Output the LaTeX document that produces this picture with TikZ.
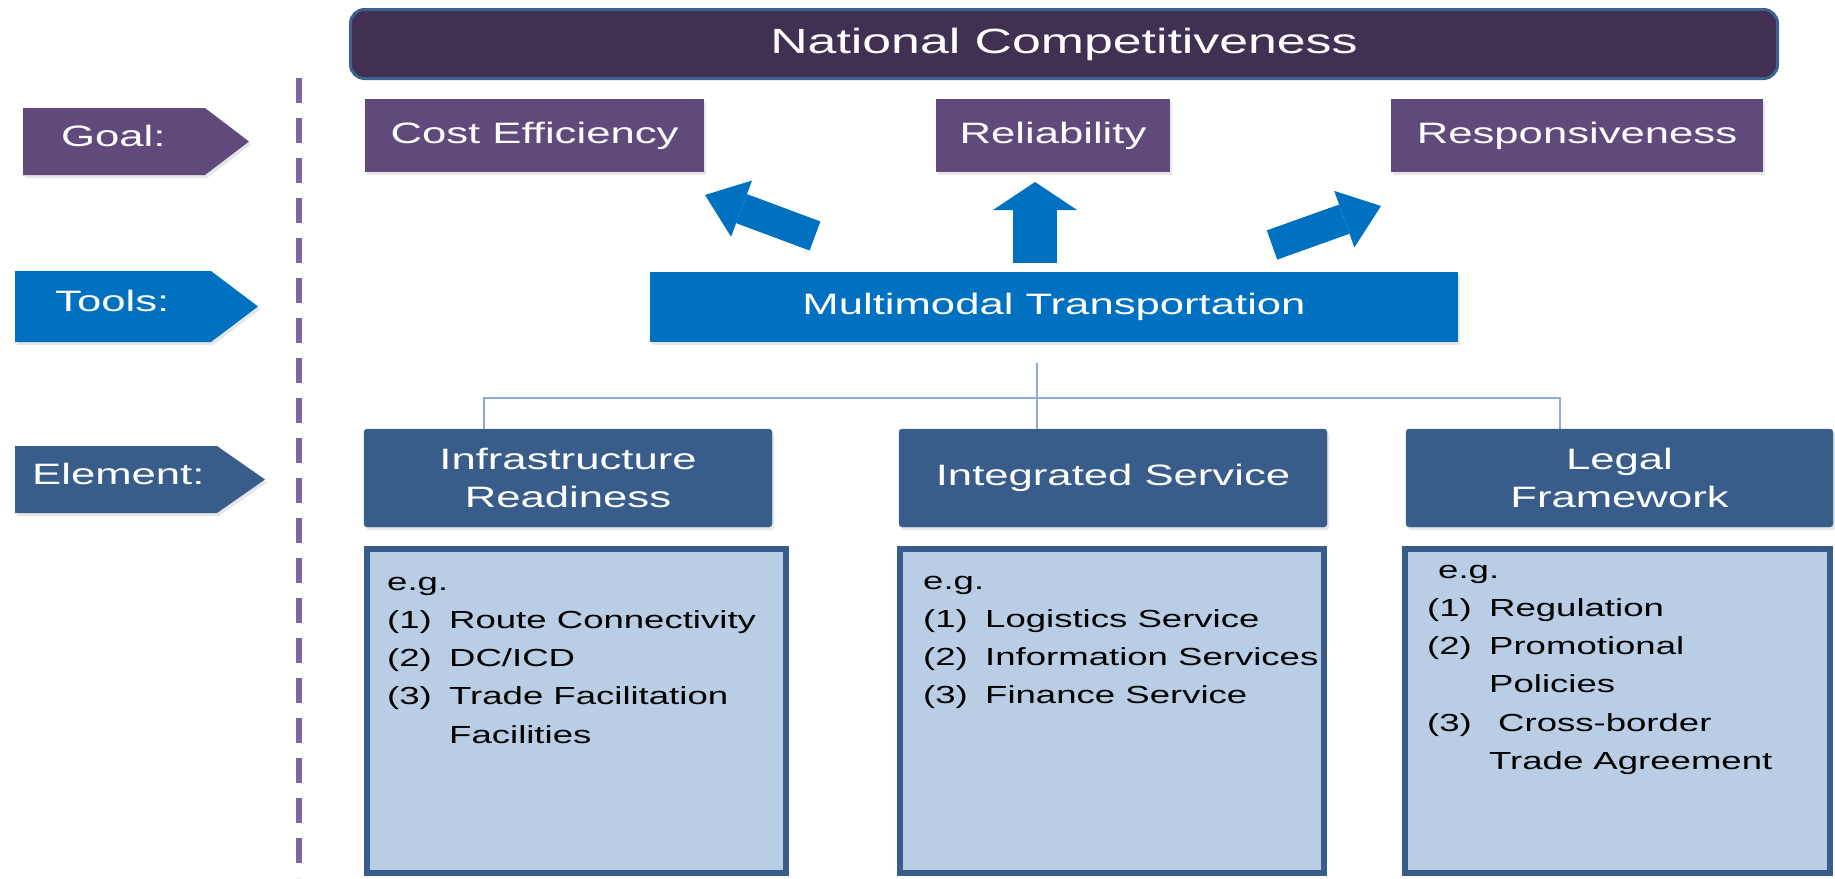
\documentclass[tikz,border=0pt]{standalone}
\usepackage{fontspec}
\setmainfont{Liberation Sans}[FakeStretch=1.48]
\usetikzlibrary{arrows.meta,shadows}

\definecolor{navy}{HTML}{403152}
\definecolor{navyline}{HTML}{3D6291}
\definecolor{goalpurple}{HTML}{604A7B}
\definecolor{toolblue}{HTML}{0070C0}
\definecolor{elemblue}{HTML}{385D8A}
\definecolor{paleblue}{HTML}{B9CDE5}
\definecolor{linkblue}{HTML}{8EA9DB}
\definecolor{dashpurple}{HTML}{8064A2}

\newcommand{\listnum}[1]{\makebox[62pt][l]{#1}}

\begin{document}
\begin{tikzpicture}[x=1pt, y=-1pt,
        every node/.style={font=\fontsize{29.5}{38}\selectfont, text=white, inner sep=0pt},
        softshadow/.style={drop shadow={shadow xshift=2pt, shadow yshift=-3pt, opacity=0.2}},
        goalbox/.style={fill=goalpurple, minimum height=73pt, softshadow},
        elembox/.style={fill=elemblue, draw=elemblue!85!white, rounded corners=3pt,
                        minimum height=98pt, align=center, softshadow},
        listbox/.style={fill=paleblue, draw=elemblue, line width=6pt, minimum height=324pt},
        listtext/.style={anchor=base west, text=black, font=\fontsize{24.7}{38.3}\selectfont},
        link/.style={linkblue, line width=2pt},
        slantarrow/.style={toolblue, line width=31pt, -{Triangle[length=39pt, width=60pt, line width=0pt]}},
        uparrow/.style={toolblue, line width=44pt, -{Triangle[length=28pt, width=84pt, line width=0pt]}}]

    \useasboundingbox (0,0) rectangle (1835,878);

    \draw[dashpurple, line width=6pt, dash pattern=on 25pt off 15pt] (299,78) -- (299,878);

    \fill[goalpurple, softshadow] (23,108) -- (205,108) -- (249,141.5) -- (205,175) -- (23,175) -- cycle;
    \fill[toolblue, softshadow] (15,271) -- (211,271) -- (258,306.5) -- (211,342) -- (15,342) -- cycle;
    \fill[elemblue, softshadow] (15,446) -- (217,446) -- (265,479.5) -- (217,513) -- (15,513) -- cycle;
    \node[anchor=west] (goal) at (61,136) {Goal:};
    \node[anchor=west] (tools) at (55,301) {Tools:};
    \node[anchor=west] (element) at (32,474) {Element:};

    \node[fill=navy, draw=navyline, line width=3pt, rounded corners=14pt, minimum width=1427pt,
          minimum height=69pt, font=\fontsize{35}{40}\selectfont] (nation) at (1064,44) {National Competitiveness};

    \node[goalbox, minimum width=339pt] (cost) at (534.5,135.5) {Cost Efficiency};
    \node[goalbox, minimum width=234pt] (reliab) at (1053,135.5) {Reliability};
    \node[goalbox, minimum width=372pt] (respons) at (1577,135.5) {Responsiveness};

    \node[fill=toolblue, minimum width=808pt, minimum height=70pt, softshadow] (multi) at (1054,307) {Multimodal Transportation};

    \coordinate (cost tail) at (815,236);
    \coordinate (cost tip) at (705,195);
    \coordinate (reliab tail) at (1035,263);
    \coordinate (reliab tip) at (1035,182);
    \coordinate (respons tail) at (1272,245);
    \coordinate (respons tip) at (1381,206);
    \draw[slantarrow] (cost tail) -- (cost tip);
    \draw[uparrow] (reliab tail) -- (reliab tip);
    \draw[slantarrow] (respons tail) -- (respons tip);

    \node[elembox, minimum width=408pt] (infra) at (568,478) {Infrastructure\\Readiness};
    \node[elembox, minimum width=428pt] (integ) at (1113,478) {Integrated Service};
    \node[elembox, minimum width=427pt] (legal) at (1619.5,478) {Legal\\Framework};

    \coordinate (hub) at (1037,363);
    \coordinate (bar left) at (484,398);
    \coordinate (bar right) at (1560,398);
    \draw[link] (hub) -- (hub |- integ.north);
    \draw[link] (infra.north -| bar left) -- (bar left) -- (bar right) -- (legal.north -| bar right);

    \node[listbox, minimum width=419pt] (infralist) at (576.5,711) {};
    \node[listbox, minimum width=424pt] (integlist) at (1112,711) {};
    \node[listbox, minimum width=425pt] (legallist) at (1617.5,711) {};

    \node[listtext] (infratext) at (387,590) {\begin{tabular}[t]{@{}l@{}}
        e.g.\\
        \listnum{(1)}Route Connectivity\\
        \listnum{(2)}DC/ICD\\
        \listnum{(3)}Trade Facilitation\\
        \listnum{}Facilities
    \end{tabular}};
    \node[listtext] (integtext) at (923,589) {\begin{tabular}[t]{@{}l@{}}
        e.g.\\
        \listnum{(1)}Logistics Service\\
        \listnum{(2)}Information Services\\
        \listnum{(3)}Finance Service
    \end{tabular}};
    \node[listtext] (legaltext) at (1427,578) {\begin{tabular}[t]{@{}l@{}}
        \hspace{11pt}e.g.\\
        \listnum{(1)}Regulation\\
        \listnum{(2)}Promotional\\
        \listnum{}Policies\\
        \listnum{(3)}\hspace{9pt}Cross-border\\
        \listnum{}Trade Agreement
    \end{tabular}};
\end{tikzpicture}
\end{document}
